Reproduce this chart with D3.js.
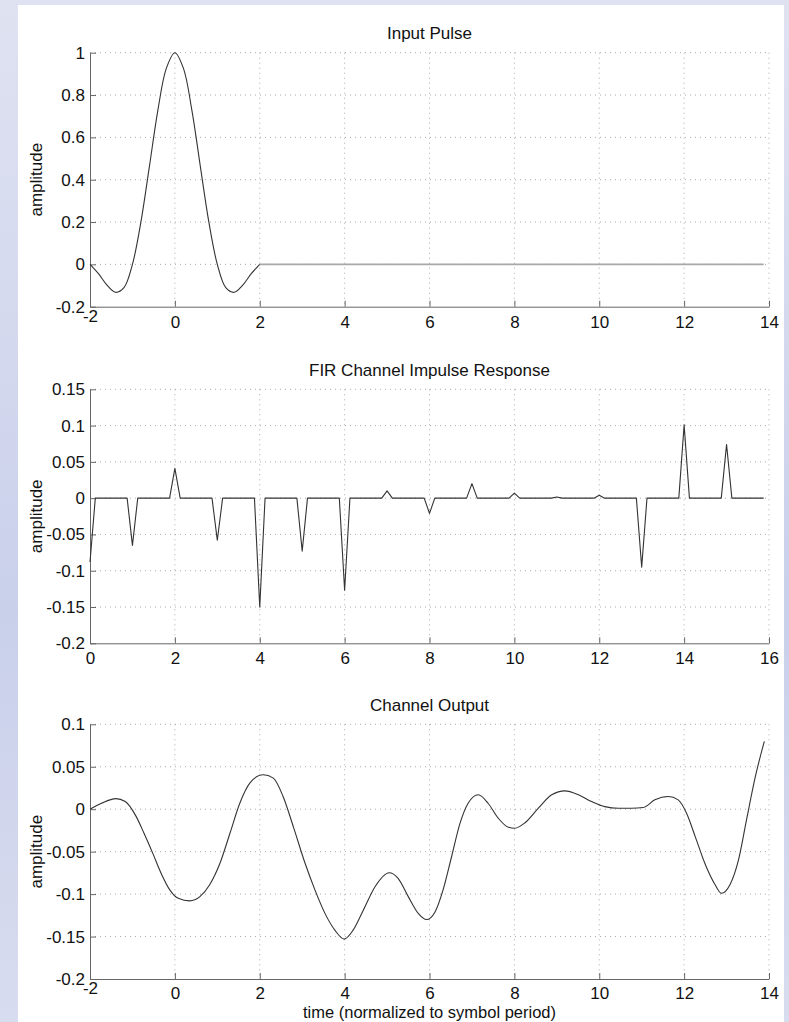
<!DOCTYPE html>
<html><head><meta charset="utf-8">
<script src="https://cdn.jsdelivr.net/npm/d3@7"></script>
<style>html,body{margin:0;padding:0;background:#d8dcef;} svg{display:block;}</style>
</head><body><svg id="c" width="789" height="1022"></svg>
<script>
// ---------- data ----------
const pulseTime = [-2,-1.8,-1.6,-1.4,-1.2,-1,-0.8,-0.6,-0.4,-0.2,0,0.2,0.4,0.6,0.8,1,1.2,1.4,1.6,1.8,2];
const pulseAmp  = [0,-0.044,-0.098,-0.132,-0.110,0,0.201,0.463,0.729,0.927,1,0.927,0.729,0.463,0.201,0,-0.110,-0.132,-0.098,-0.044,0];
const pulseTail = [2, 13.875];          // zero padding after the pulse
const firTaps = [-0.088,-0.065,0.041,-0.058,-0.150,-0.073,-0.127,0.010,-0.021,0.020,0.007,0.0015,0.004,-0.095,0.101,0.074];
const firSamplesPerSymbol = 8;
const outTime = [-2,-1.73,-1.39,-1.17,-0.93,-0.73,-0.52,-0.32,-0.12,0.08,0.35,0.59,0.82,1.06,1.30,1.53,1.77,2.08,2.32,2.55,2.80,3.07,3.30,3.54,3.77,3.99,4.20,4.44,4.72,5.05,5.26,5.50,5.74,5.93,6.13,6.32,6.52,6.72,6.91,7.15,7.38,7.62,7.86,8.01,8.25,8.56,8.88,9.19,9.51,9.82,10.13,10.45,10.76,11.04,11.31,11.63,11.86,12.06,12.26,12.49,12.73,12.88,13.08,13.28,13.47,13.67,13.89];
const outAmp  = [0,0.007,0.0125,0.009,-0.007,-0.028,-0.052,-0.076,-0.095,-0.105,-0.108,-0.103,-0.089,-0.064,-0.028,0.007,0.031,0.0405,0.0366,0.015,-0.022,-0.064,-0.095,-0.123,-0.1425,-0.153,-0.1425,-0.119,-0.091,-0.0748,-0.0815,-0.103,-0.123,-0.130,-0.121,-0.095,-0.056,-0.0165,0.007,0.017,0.007,-0.0106,-0.0213,-0.0224,-0.016,0.001,0.017,0.0216,0.017,0.009,0.003,0.0012,0.0012,0.002,0.011,0.015,0.011,-0.005,-0.032,-0.064,-0.089,-0.099,-0.089,-0.060,-0.0126,0.0366,0.080];

const xTicksA = [-2,0,2,4,6,8,10,12,14];
const xTicksB = [0,2,4,6,8,10,12,14,16];
const yTicks1 = [-0.2,0,0.2,0.4,0.6,0.8,1];
const yTicks2 = [-0.2,-0.15,-0.1,-0.05,0,0.05,0.1,0.15];
const yTicks3 = [-0.2,-0.15,-0.1,-0.05,0,0.05,0.1];
const titles = ["Input Pulse","FIR Channel Impulse Response","Channel Output"];
const yLabelText = "amplitude";
const xLabelText = "time (normalized to symbol period)";

// ---------- drawing ----------
const svg = d3.select("#c");
const defs = svg.append("defs");
const g0 = defs.append("linearGradient").attr("id","bg").attr("x1",0).attr("y1",0).attr("x2",0).attr("y2",1);
g0.append("stop").attr("offset","0%").attr("stop-color","#dfe2f1");
g0.append("stop").attr("offset","35%").attr("stop-color","#d3d8ee");
g0.append("stop").attr("offset","60%").attr("stop-color","#c9d0ea");
g0.append("stop").attr("offset","100%").attr("stop-color","#d8dcef");
svg.append("rect").attr("width",789).attr("height",1022).attr("fill","url(#bg)");
svg.append("rect").attr("x",18).attr("y",5).attr("width",766).attr("height",1017).attr("fill","#fff");

const FONT = "'Liberation Sans', Arial, Helvetica, sans-serif";
const L = 90, R = 769;
const fmt = v => String(+v.toFixed(2));

function panel(cfg){
  const x = d3.scaleLinear().domain(cfg.xdom).range([L,R]);
  const y = d3.scaleLinear().domain(cfg.ydom).range([cfg.bottom,cfg.top]);
  const g = svg.append("g");
  // grid
  g.append("g").selectAll("line").data(cfg.xticks.slice(1)).join("line")
    .attr("x1",d=>x(d)).attr("x2",d=>x(d)).attr("y1",cfg.top).attr("y2",cfg.bottom)
    .attr("stroke","#aaa").attr("stroke-width",1).attr("stroke-dasharray","1,4");
  g.append("g").selectAll("line").data(cfg.yticks.slice(1)).join("line")
    .attr("x1",L).attr("x2",R).attr("y1",d=>y(d)).attr("y2",d=>y(d))
    .attr("stroke","#aaa").attr("stroke-width",1).attr("stroke-dasharray","1,4");
  // axes
  const ax = g.append("g").attr("transform",`translate(0,${cfg.bottom})`)
    .call(d3.axisBottom(x).tickValues(cfg.xticks).tickFormat(fmt).tickSizeInner(-6).tickSizeOuter(0).tickPadding(cfg.xpad||9));
  const ay = g.append("g").attr("transform",`translate(${L},0)`)
    .call(d3.axisLeft(y).tickValues(cfg.yticks).tickFormat(fmt).tickSizeInner(-6).tickSizeOuter(0).tickPadding(5));
  [ax,ay].forEach(a=>{
    a.attr("font-family",FONT).attr("font-size",17);
    a.select(".domain").attr("stroke","#666");
    a.selectAll(".tick line").attr("stroke","#666");
    a.selectAll(".tick text").attr("fill","#111");
  });
  ax.selectAll(".tick text").filter(d=>d===-2).attr("y",3);
  // title
  g.append("text").attr("x",(L+R)/2).attr("y",cfg.top-13.5).attr("text-anchor","middle")
    .attr("font-family",FONT).attr("font-size",17).attr("fill","#111").text(cfg.title);
  // y label
  g.append("text").attr("transform",`translate(42,${(cfg.top+cfg.bottom)/2}) rotate(-90)`)
    .attr("text-anchor","middle").attr("font-family",FONT).attr("font-size",17).attr("fill","#111").text(yLabelText);
  return {g,x,y};
}

// Panel 1
const p1 = panel({top:52.7,bottom:306.7,xdom:[-2,14],ydom:[-0.2,1],xticks:xTicksA,yticks:yTicks1,title:titles[0]});
p1.g.append("path").datum(pulseTail.map(t=>[t,0]))
  .attr("d",d3.line().x(d=>p1.x(d[0])).y(d=>p1.y(d[1])))
  .attr("fill","none").attr("stroke","#a8a8a8").attr("stroke-width",1.8);
p1.g.append("path").datum(pulseTime.map((t,i)=>[t,pulseAmp[i]]))
  .attr("d",d3.line().x(d=>p1.x(d[0])).y(d=>p1.y(d[1])).curve(d3.curveCatmullRom.alpha(0.5)))
  .attr("fill","none").attr("stroke","#333").attr("stroke-width",1.1);

// Panel 2
const p2 = panel({top:389.3,bottom:643.3,xdom:[0,16],ydom:[-0.2,0.15],xticks:xTicksB,yticks:yTicks2,title:titles[1]});
const firPts = [];
firTaps.forEach((h,k)=>{ for(let j=0;j<firSamplesPerSymbol;j++) firPts.push([k+j/firSamplesPerSymbol, j===0?h:0]); });
p2.g.append("path").datum(firPts)
  .attr("d",d3.line().x(d=>p2.x(d[0])).y(d=>p2.y(d[1])))
  .attr("fill","none").attr("stroke","#333").attr("stroke-width",1.1).attr("stroke-linejoin","round");

// Panel 3
const p3 = panel({top:724.3,bottom:979,xdom:[-2,14],ydom:[-0.2,0.1],xticks:xTicksA,yticks:yTicks3,title:titles[2],xpad:8});
p3.g.append("path").datum(outTime.map((t,i)=>[t,outAmp[i]]))
  .attr("d",d3.line().x(d=>p3.x(d[0])).y(d=>p3.y(d[1])).curve(d3.curveMonotoneX))
  .attr("fill","none").attr("stroke","#333").attr("stroke-width",1.1);
svg.append("text").attr("x",(L+R)/2).attr("y",1018).attr("text-anchor","middle")
  .attr("font-family",FONT).attr("font-size",16.5).attr("fill","#111").text(xLabelText);
</script></body></html>
